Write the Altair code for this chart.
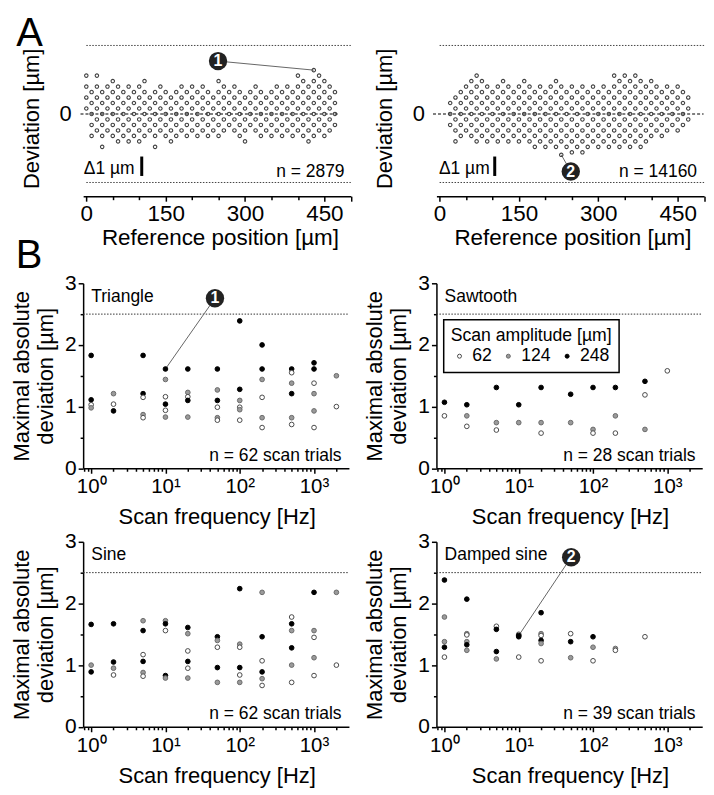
import altair as alt
import pandas as pd

FONT = "Liberation Sans"

# ---------------- Panel A data (lattice of deviations, rows in 0.2 um steps) ----------------
DEV_STEP = 0.2
A1_POS = [0, 10, 20, 30, 40, 50, 60, 70, 80, 90, 100, 110, 120, 130, 140, 150, 160, 170,
          180, 190, 200, 210, 220, 230, 240, 250, 260, 270, 280, 290, 300, 310, 320, 330,
          340, 350, 360, 370, 380, 390, 400, 410, 420, 430, 440, 450, 460, 470]
A1_ROWS = [
    "7 5 3 1", "4 2 0 -2 -4", "7 5 3 1 -1 -3", "4 2 0 -2 -4 -6", "5 3 1 -1 -3",
    "6 4 2 0 -2 -4", "5 3 1 -1 -3 -5", "4 2 0 -2 -4", "5 3 1 -1 -3 -5", "4 2 0 -2 -4",
    "5 3 1 -1 -3 -5", "6 4 2 0 -2 -4", "3 1 -1 -3", "4 2 0 -2 -4 -6", "5 3 1 -1 -3",
    "4 2 0 -2 -4", "3 1 -1 -3 -5", "4 2 0 -2 -4", "5 3 1 -1 -3", "4 2 0 -2 -4",
    "5 3 1 -1 -3", "4 2 0 -2 -4", "5 3 1 -1 -3", "4 2 0 -2 -4", "3 1 -1 -3",
    "6 4 2 0 -2 -4", "5 3 1 -1 -3", "4 2 0 -2", "5 3 1 -1 -3", "4 2 0 -2 -4",
    "3 1 -1 -3 -5", "4 2 0 -2", "5 3 1 -1 -3", "4 2 0 -2 -4", "3 1 -1 -3",
    "4 2 0 -2 -4", "5 3 1 -1 -3", "4 2 0 -2 -4", "5 3 1 -1 -3", "4 2 0 -2 -4",
    "7 5 3 1 -1 -3", "6 4 2 0 -2 -4", "5 3 1 -1 -3 -5", "8 6 4 2 0 -2 -4", "7 5 3 1 -1 -3",
    "6 4 2 0 -2 -4", "5 3 1 -1 -3", "4 2 0 -2",
]
A1_EXTRA = []

A2_POS = [20, 30, 40, 50, 60, 70, 80, 90, 100, 110, 120, 130, 140, 150, 160, 170, 180, 190,
          200, 210, 220, 230, 240, 250, 260, 270, 280, 290, 300, 310, 320, 330, 340, 350,
          360, 370, 380, 390, 400, 410, 420, 430, 440, 450, 460, 470]
A2_ROWS = [
    "2 0 -2", "3 1 -1 -3 -5", "4 2 0 -2 -4", "5 3 1 -1 -3", "6 4 2 0 -2 -4",
    "7 5 3 1 -1 -3 -5", "6 4 2 0 -2 -4", "5 3 1 -1 -3 -5", "4 2 0 -2 -4", "5 3 1 -1 -3 -5",
    "6 4 2 0 -2 -4", "5 3 1 -1 -3 -5", "4 2 0 -2 -4", "5 3 1 -1 -3 -5", "6 4 2 0 -2 -4",
    "5 3 1 -1 -3 -5", "4 2 0 -2 -4 -6", "5 3 1 -1 -3 -5", "4 2 0 -2 -4 -6", "5 3 1 -1 -3 -5",
    "6 4 2 0 -2 -4 -6", "5 3 1 -1 -3 -5", "4 2 0 -2 -4 -6", "5 3 1 -1 -3 -5 -7", "4 2 0 -2 -4 -6",
    "5 3 1 -1 -3 -5 -7", "4 2 0 -2 -4 -6", "5 3 1 -1 -3 -5", "4 2 0 -2 -4 -6", "5 3 1 -1 -3 -5",
    "4 2 0 -2 -4 -6", "7 5 3 1 -1 -3 -5", "6 4 2 0 -2 -4 -6", "7 5 3 1 -1 -3 -5", "6 4 2 0 -2 -4 -6",
    "7 5 3 1 -1 -3 -5", "6 4 2 0 -2 -4 -6", "5 3 1 -1 -3 -5", "6 4 2 0 -2 -4", "5 3 1 -1 -3",
    "4 2 0 -2 -4", "5 3 1 -1 -3", "4 2 0 -2", "5 3 1 -1 -3", "4 2 0 -2", "3 1 -1",
]
A2_EXTRA = [(230, -1.49)]

A1_MARK = {"num": "1", "mx": 249, "my": 1.93, "tx": 430, "ty": 1.6}
A2_MARK = {"num": "2", "mx": 248, "my": -2.1, "tx": 230, "ty": -1.49}

# ---------------- Panel B data ----------------
TRI_F = [1, 1, 1, 1, 2, 2, 2, 5, 5, 5, 5, 5, 10, 10, 10, 10, 10, 10, 20, 20, 20, 20, 20,
         50, 50, 50, 50, 50, 50, 100, 100, 100, 100, 100, 100, 200, 200, 200, 200, 200, 200,
         500, 500, 500, 500, 500, 500, 1000, 1000, 1000, 1000, 1000, 1000, 2000, 2000]
TRI_V = [1.83, 1.11, 1.03, 0.98, 1.21, 1.04, 0.93, 1.83, 1.21, 1.15, 0.87, 0.82,
         1.61, 1.44, 1.16, 1.04, 0.94, 0.83, 1.61, 1.23, 1.16, 1.10, 0.83,
         1.61, 1.27, 1.10, 0.99, 0.82, 0.78, 2.39, 1.28, 1.10, 0.99, 0.95, 0.78,
         2.00, 1.61, 1.44, 1.15, 0.82, 0.66, 1.61, 1.55, 1.38, 1.21, 0.82, 0.71,
         1.71, 1.61, 1.38, 1.21, 0.93, 0.66, 1.50, 1.00]
TRI_A = [248, 248, 62, 124, 124, 62, 248, 248, 248, 62, 124, 62,
         248, 124, 62, 248, 62, 124, 248, 124, 62, 248, 124,
         248, 124, 248, 62, 124, 62, 248, 248, 124, 62, 124, 62,
         248, 248, 124, 62, 124, 62, 248, 62, 124, 248, 124, 62,
         248, 248, 62, 124, 124, 62, 124, 62]

SAW_F = [1, 1, 2, 2, 2, 5, 5, 5, 10, 10, 20, 20, 20, 50, 50, 100, 100, 100,
         200, 200, 200, 500, 500, 500, 1000]
SAW_V = [1.07, 0.85, 1.03, 0.85, 0.68, 1.31, 0.74, 0.62, 1.03, 0.74, 1.31, 0.74, 0.57,
         1.20, 0.74, 1.31, 0.63, 0.57, 1.31, 0.85, 0.57, 1.41, 1.19, 0.63, 1.58]
SAW_A = [248, 62, 248, 124, 62, 248, 124, 62, 248, 124, 248, 124, 62,
         248, 124, 248, 124, 62, 248, 124, 62, 248, 62, 124, 62]

SIN_F = [1, 1, 1, 2, 2, 2, 2, 5, 5, 5, 5, 5, 5, 10, 10, 10, 10, 10,
         20, 20, 20, 20, 20, 20, 50, 50, 50, 50, 50, 100, 100, 100, 100, 100, 100,
         200, 200, 200, 200, 200, 200, 500, 500, 500, 500, 500, 500,
         1000, 1000, 1000, 1000, 1000, 2000, 2000]
SIN_V = [1.66, 1.00, 0.89, 1.67, 1.05, 0.95, 0.84, 1.72, 1.56, 1.17, 1.06, 0.88, 0.82,
         1.72, 1.67, 1.56, 0.83, 0.79, 1.61, 1.51, 1.23, 1.06, 0.95, 0.79,
         1.46, 1.40, 1.29, 0.96, 0.72, 2.24, 1.34, 1.29, 0.96, 0.84, 0.72,
         2.18, 1.46, 1.07, 0.89, 0.78, 0.67, 1.78, 1.67, 1.56, 1.28, 1.00, 0.72,
         2.18, 1.56, 1.45, 1.12, 0.83, 2.18, 1.00]
SIN_A = [248, 124, 248, 248, 248, 124, 62, 124, 248, 62, 248, 124, 62,
         124, 248, 62, 248, 124, 248, 124, 62, 248, 62, 124,
         248, 124, 62, 248, 124, 248, 124, 62, 248, 62, 124,
         124, 248, 62, 248, 124, 62, 62, 248, 124, 248, 124, 62,
         248, 124, 62, 124, 62, 124, 62]

DMP_F = [1, 1, 1, 1, 1, 2, 2, 2, 2, 2, 2, 5, 5, 5, 5, 10, 10, 10, 10,
         20, 20, 20, 20, 20, 20, 50, 50, 50, 100, 100, 100, 200, 200, 500]
DMP_V = [2.38, 1.78, 1.38, 1.29, 1.13, 2.07, 1.51, 1.49, 1.38, 1.33, 1.24,
         1.63, 1.58, 1.22, 1.10, 1.50, 1.48, 1.46, 1.13,
         1.85, 1.51, 1.48, 1.40, 1.35, 1.07, 1.51, 1.38, 1.12, 1.46, 1.29, 1.07,
         1.27, 1.24, 1.46]
DMP_A = [248, 124, 124, 248, 62, 248, 124, 62, 124, 248, 124,
         62, 248, 248, 124, 62, 248, 248, 62,
         248, 124, 62, 248, 124, 62, 62, 248, 124, 248, 124, 62,
         124, 62, 62]

B1_MARK = {"num": "1", "mx": 46.4, "my": 2.757, "tx": 10, "ty": 1.61}
B4_MARK = {"num": "2", "mx": 50.8, "my": 2.75, "tx": 10, "ty": 1.48}

AMP_DOMAIN = ["62", "124", "248"]
AMP_FILL = ["white", "#9a9a9a", "black"]
AMP_STROKE = ["#4a4a4a", "#6a6a6a", "black"]

# ---------------- geometry ----------------
A_W, A_H = 268.6, 178.5
B_W, B_H = 266.7, 185.6
A_XDOM = [-6, 500]
A_YDOM = [-3.491, 3]
B_XDOM = [0.78, 2950]
B_YDOM = [0, 3]


def text_layer(txt, x, y, size=17.5, align="left", color="black", weight="normal",
               baseline="alphabetic"):
    return alt.Chart(pd.DataFrame({"t": [txt]})).mark_text(
        align=align, baseline=baseline, fontSize=size, font=FONT, color=color,
        fontWeight=weight
    ).encode(text="t:N", x=alt.value(x), y=alt.value(y))


def marker_layers(mk, xs, ys):
    d = pd.DataFrame([mk])
    line = alt.Chart(d).mark_rule(color="#666666", strokeWidth=1).encode(
        x=alt.X("mx:Q", scale=xs, axis=None), y=alt.Y("my:Q", scale=ys, axis=None),
        x2="tx:Q", y2="ty:Q")
    circ = alt.Chart(d).mark_point(shape="circle", filled=True, size=340, color="#222222",
                                   opacity=1).encode(
        x=alt.X("mx:Q", scale=xs, axis=None), y=alt.Y("my:Q", scale=ys, axis=None))
    num = alt.Chart(d).mark_text(color="white", fontSize=16, fontWeight="bold", font=FONT,
                                 baseline="middle", align="center").encode(
        x=alt.X("mx:Q", scale=xs, axis=None), y=alt.Y("my:Q", scale=ys, axis=None),
        text="num:N")
    return line, circ, num


def panel_a(positions, rows, extra, n_label, mk, title_x, n_right, lab_x, bar_x, letter=None):
    recs = []
    for p, s in zip(positions, rows):
        for r in s.split():
            recs.append({"pos": p, "dev": round(int(r) * DEV_STEP, 3)})
    for p, d in extra:
        recs.append({"pos": p, "dev": d})
    df = pd.DataFrame(recs)

    xs = alt.Scale(domain=A_XDOM, nice=False, zero=False)
    ys = alt.Scale(domain=A_YDOM, nice=False, zero=False)

    ax_major = alt.Axis(values=[0, 150, 300, 450, 500],
                        labelExpr="datum.value == 500 ? '' : datum.label",
                        tickSize=5, labelFontSize=22.5, labelPadding=1.5, labelFlush=False,
                        title="Reference position [µm]", titleFontSize=22.5,
                        titleX=title_x, titleY=48.3, titleBaseline="alphabetic",
                        orient="bottom", offset=-13.5, grid=False)
    ax_minor = alt.Axis(values=[50, 100, 200, 250, 350, 400], tickSize=3.5, labels=False,
                        domain=False, title=None, orient="bottom", offset=-13.5, grid=False)
    ax_y = alt.Axis(values=[0], ticks=False, domain=False, labelFontSize=22, labelPadding=12,
                    title="Deviation [µm]", titleFontSize=22, titleX=-44.7, titleY=86.9,
                    titleBaseline="alphabetic", orient="left", grid=False)

    guides = alt.Chart(pd.DataFrame({"x1": [0, 0], "x2": [500, 500], "v": [2.5, -2.5]})
                       ).mark_rule(color="#444444", strokeDash=[1.5, 1.5], strokeWidth=1).encode(
        x=alt.X("x1:Q", scale=xs, axis=ax_minor), x2="x2:Q",
        y=alt.Y("v:Q", scale=ys, axis=None))
    zero_x = [-11, 475] if positions[0] == 0 else [-12.5, 499]
    zero = alt.Chart(pd.DataFrame({"x1": [zero_x[0]], "x2": [zero_x[1]], "v": [0]})
                     ).mark_rule(color="black", strokeDash=[3, 2], strokeWidth=1.2).encode(
        x=alt.X("x1:Q", scale=xs, axis=None), x2="x2:Q", y=alt.Y("v:Q", scale=ys, axis=None))
    pts = alt.Chart(df).mark_point(shape="circle", filled=False, size=12, strokeWidth=1.1,
                                   color="#404040", opacity=1).encode(
        x=alt.X("pos:Q", scale=xs, axis=ax_major), y=alt.Y("dev:Q", scale=ys, axis=ax_y))
    bar = alt.Chart(pd.DataFrame({"k": [0]})).mark_rule(color="black", strokeWidth=3).encode(
        x=alt.value(bar_x), y=alt.value(125.2), y2=alt.value(144.7))
    line, circ, num = marker_layers(mk, xs, ys)
    layers = [guides, zero, line, pts, bar,
              text_layer("Δ1 µm", lab_x, 142.7),
              text_layer(n_label, n_right, 146.2, align="right"),
              circ, num]
    if letter:
        layers.append(text_layer(letter, -67, 14.4, size=40))
    return alt.layer(*layers).resolve_axis(x="independent", y="independent").properties(
        width=A_W, height=A_H)


def panel_b(freqs, vals, amps, name, n_label, n_right, mk=None, legend=False, letter=None):
    df = pd.DataFrame({"f": freqs, "v": vals, "amp": [str(a) for a in amps]})
    xs = alt.Scale(type="log", domain=B_XDOM, nice=False)
    ys = alt.Scale(domain=B_YDOM, nice=False, zero=True)

    ax_x = alt.Axis(values=[1, 10, 100, 1000],
                    labelExpr="datum.value == 1 ? '10⁰' : datum.value == 10 ? '10¹' : datum.value == 100 ? '10²' : '10³'",
                    tickSize=5, labelFontSize=20.5, labelPadding=3.5, labelFlush=False,
                    labelOverlap=False,
                    title="Scan frequency [Hz]", titleFontSize=22, titleX=134, titleY=55.5,
                    titleBaseline="alphabetic", orient="bottom", grid=False)
    ax_xm = alt.Axis(values=[0.8, 0.9, 2, 3, 4, 5, 6, 7, 8, 9, 20, 30, 40, 50, 60, 70, 80, 90,
                             200, 300, 400, 500, 600, 700, 800, 900, 2000],
                     tickSize=3, labels=False, domain=False, title=None, orient="bottom",
                     grid=False)
    ax_y = alt.Axis(values=[0, 1, 2, 3], tickSize=5, labelFontSize=21, labelPadding=2,
                    title=["Maximal absolute", "deviation [µm]"], titleFontSize=22,
                    titleX=-54.7, titleY=92.8, titleBaseline="alphabetic", titleLineHeight=23.5,
                    orient="left", grid=False)
    ax_ym = alt.Axis(values=[0.5, 1.5, 2.5], tickSize=3, labels=False, domain=False,
                     title=None, orient="left", grid=False)

    ref = alt.Chart(pd.DataFrame({"f1": [B_XDOM[0]], "f2": [B_XDOM[1]], "v": [2.5]})
                    ).mark_rule(color="#333333", strokeDash=[1.5, 1.5], strokeWidth=1).encode(
        x=alt.X("f1:Q", scale=xs, axis=ax_xm), x2="f2:Q",
        y=alt.Y("v:Q", scale=ys, axis=ax_ym))

    if legend:
        leg = alt.Legend(title="Scan amplitude [µm]", orient="none", legendX=7.3, legendY=36.6,
                         direction="horizontal", strokeColor="black", fillColor="white",
                         padding=7, titlePadding=3, titleFontSize=17.7, titleFont=FONT,
                         titleFontWeight="normal", titleColor="black", labelFontSize=17.7,
                         labelFont=FONT, labelColor="black", symbolSize=16,
                         symbolStrokeWidth=1, symbolOffset=0, labelOffset=4,
                         columnPadding=7, gridAlign="none", symbolType="circle")
    else:
        leg = None
    fill_kw = dict(scale=alt.Scale(domain=AMP_DOMAIN, range=AMP_FILL))
    stroke_kw = dict(scale=alt.Scale(domain=AMP_DOMAIN, range=AMP_STROKE))
    fill_kw["legend"] = leg
    stroke_kw["legend"] = leg
    pts = alt.Chart(df).mark_point(shape="circle", filled=True, size=22, strokeWidth=1,
                                   opacity=1).encode(
        x=alt.X("f:Q", scale=xs, axis=ax_x), y=alt.Y("v:Q", scale=ys, axis=ax_y),
        fill=alt.Fill("amp:N", **fill_kw), stroke=alt.Stroke("amp:N", **stroke_kw))

    layers = [ref]
    if mk:
        line, circ, num = marker_layers(mk, xs, ys)
        layers += [line, pts, circ, num]
    else:
        layers += [pts]
    layers += [text_layer(name, 8.2, 18.4), text_layer(n_label, n_right, 178.0, align="right")]
    if letter:
        layers.append(text_layer(letter, -67.7, -15.7, size=40))
    return alt.layer(*layers).resolve_axis(x="independent", y="independent").properties(
        width=B_W, height=B_H)


a1 = panel_a(A1_POS, A1_ROWS, A1_EXTRA, "n = 2879", A1_MARK, 137.3, 262.3, 0.6, 58.8, letter="A")
a2 = panel_a(A2_POS, A2_ROWS, A2_EXTRA, "n = 14160", A2_MARK, 136.5, 261.5, 2.5, 58.5)
b1 = panel_b(TRI_F, TRI_V, TRI_A, "Triangle", "n = 62 scan trials", 259.3, mk=B1_MARK, letter="B")
b2 = panel_b(SAW_F, SAW_V, SAW_A, "Sawtooth", "n = 28 scan trials", 260, legend=True)
b3 = panel_b(SIN_F, SIN_V, SIN_A, "Sine", "n = 62 scan trials", 259.3)
b4 = panel_b(DMP_F, DMP_V, DMP_A, "Damped sine", "n = 39 scan trials", 260, mk=B4_MARK)

chart = alt.concat(a1, a2, b1, b2, b3, b4, columns=2).properties(
    bounds="flush",
    spacing=alt.RowColnumber(row=73.4, column=85.5),
    padding={"left": 2.4, "top": 4.5, "right": 0, "bottom": 0},
).resolve_legend(fill="independent", stroke="independent").configure_view(
    stroke=None
).configure_axis(
    domainColor="black", tickColor="black", labelColor="black", titleColor="black",
    labelFont=FONT, titleFont=FONT, titleFontWeight="normal", domainWidth=1.5, tickWidth=1.5
).configure_legend(strokeWidth=1.5)

chart.save("out.html", embed_options={"renderer": "svg", "actions": False})
